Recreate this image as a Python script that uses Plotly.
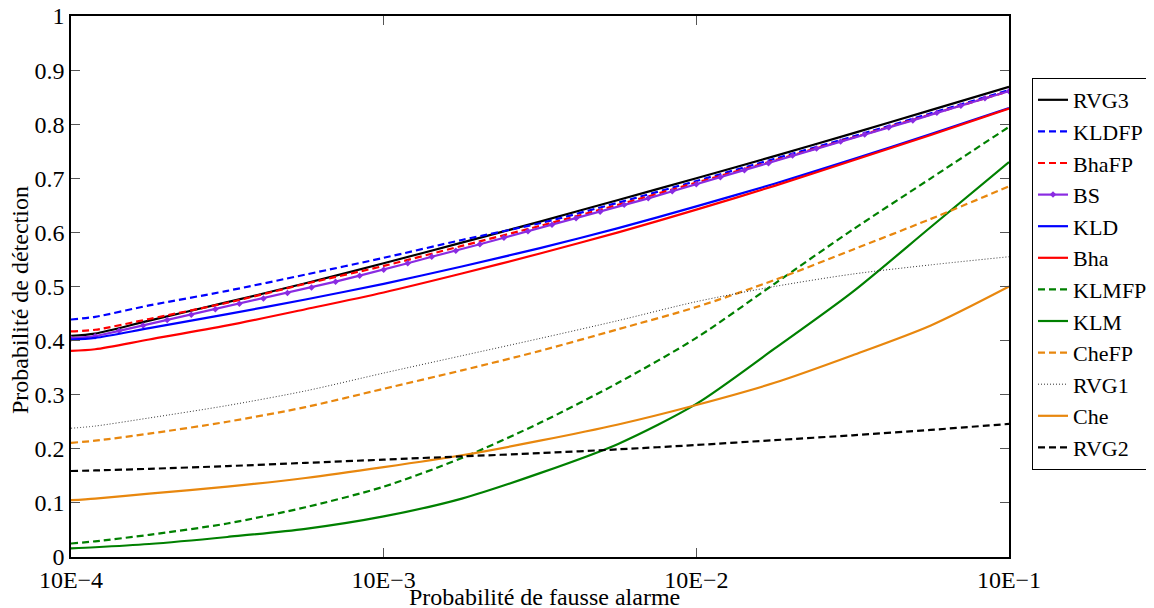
import numpy as np
import plotly.graph_objects as go

# x grid (probabilité de fausse alarme)
pfa = [1.0e-4, 1.194e-4, 1.778e-4, 3.162e-4, 5.623e-4, 1.0e-3, 1.778e-3,
       3.162e-3, 5.623e-3, 1.0e-2, 1.778e-2, 3.162e-2, 5.623e-2, 1.0e-1]
pfa_bs = list(np.logspace(-4, -1, 40))

rvg3  = [0.409, 0.413, 0.437, 0.471, 0.506, 0.543, 0.581, 0.620, 0.660, 0.700, 0.741, 0.783, 0.826, 0.869]
kldfp = [0.439, 0.444, 0.465, 0.492, 0.522, 0.553, 0.586, 0.617, 0.655, 0.695, 0.736, 0.777, 0.820, 0.863]
bhafp = [0.417, 0.420, 0.440, 0.470, 0.505, 0.538, 0.575, 0.612, 0.651, 0.692, 0.733, 0.775, 0.818, 0.861]
bs = [0.404, 0.408, 0.418, 0.428, 0.438, 0.448, 0.458, 0.468, 0.478, 0.488,
      0.498, 0.509, 0.520, 0.531, 0.543, 0.555, 0.566, 0.578, 0.590, 0.602,
      0.614, 0.626, 0.638, 0.651, 0.663, 0.676, 0.689, 0.702, 0.715, 0.728,
      0.742, 0.755, 0.768, 0.781, 0.794, 0.807, 0.821, 0.834, 0.848, 0.861]
kld   = [0.402, 0.405, 0.423, 0.449, 0.476, 0.505, 0.537, 0.571, 0.608, 0.648, 0.690, 0.735, 0.782, 0.830]
bha   = [0.381, 0.384, 0.402, 0.428, 0.458, 0.489, 0.524, 0.561, 0.600, 0.642, 0.686, 0.733, 0.780, 0.829]
klmfp = [0.025, 0.029, 0.041, 0.062, 0.092, 0.130, 0.183, 0.248, 0.322, 0.405, 0.505, 0.605, 0.700, 0.795]
klm   = [0.016, 0.018, 0.024, 0.037, 0.052, 0.075, 0.108, 0.155, 0.209, 0.283, 0.385, 0.490, 0.610, 0.730]
chefp = [0.211, 0.215, 0.228, 0.250, 0.277, 0.311, 0.345, 0.381, 0.421, 0.462, 0.512, 0.568, 0.625, 0.685]
rvg1  = [0.238, 0.242, 0.257, 0.280, 0.307, 0.340, 0.372, 0.404, 0.437, 0.472, 0.500, 0.523, 0.540, 0.555]
che   = [0.105, 0.108, 0.117, 0.130, 0.146, 0.166, 0.188, 0.215, 0.245, 0.281, 0.322, 0.373, 0.428, 0.500]
rvg2  = [0.159, 0.160, 0.163, 0.168, 0.174, 0.180, 0.186, 0.192, 0.199, 0.207, 0.216, 0.225, 0.235, 0.246]

xtick_vals = [1e-4, 1e-3, 1e-2, 1e-1]
xtick_text = ["10E\u22124", "10E\u22123", "10E\u22122", "10E\u22121"]

DASH = "7px,4px"
BLUE = "#0000FF"
RED = "#FF0000"
GREEN = "#008000"
ORANGE = "#E8870E"
PURPLE = "#8A2BE2"
LW = 2.2

series = [
    ("RVG3", pfa, rvg3, "black", "solid", LW),
    ("KLDFP", pfa, kldfp, BLUE, DASH, LW),
    ("BhaFP", pfa, bhafp, RED, DASH, LW),
    ("BS", pfa_bs, bs, PURPLE, "solid", LW),
    ("KLD", pfa, kld, BLUE, "solid", LW),
    ("Bha", pfa, bha, RED, "solid", LW),
    ("KLMFP", pfa, klmfp, GREEN, DASH, LW),
    ("KLM", pfa, klm, GREEN, "solid", LW),
    ("CheFP", pfa, chefp, ORANGE, DASH, LW),
    ("RVG1", pfa, rvg1, "#333333", "1px,2px", 1),
    ("Che", pfa, che, ORANGE, "solid", LW),
    ("RVG2", pfa, rvg2, "black", DASH, LW),
]

fig = go.Figure()
for name, xs, ys, col, dash, w in series:
    if name == "BS":
        fig.add_trace(go.Scatter(x=xs, y=ys, name=name, mode="lines+markers",
                                 line=dict(color=col, width=w, dash=dash),
                                 marker=dict(symbol="diamond", size=5, color=col)))
    else:
        fig.add_trace(go.Scatter(x=xs, y=ys, name=name, mode="lines",
                                 line=dict(color=col, width=w, dash=dash,
                                           shape="spline", smoothing=0.8)))

FONT = "'Times New Roman', Times, 'Liberation Serif', Tinos, 'Nimbus Roman', serif"

# page offset (body margin) compensation
OFF = 8
L, T, R, B = 71, 16, 1009, 557

fig.update_layout(
    width=1154, height=608,
    margin=dict(l=L - OFF, r=1154 - R + OFF, t=T - OFF, b=608 - B + OFF, autoexpand=False),
    paper_bgcolor="white", plot_bgcolor="white",
    font=dict(family=FONT, size=24, color="black"),
    showlegend=True,
    legend=dict(xref="container", yref="container",
                x=(1032 - OFF) / 1154, y=1 - (78 - OFF) / 608,
                xanchor="left", yanchor="top", maxheight=560,
                bordercolor="black", borderwidth=1, bgcolor="white",
                font=dict(family=FONT, size=22, color="black"),
                tracegroupgap=0, itemwidth=30),
    annotations=[
        dict(text="Probabilité de fausse alarme", xref="paper", yref="paper",
             x=(544 - L) / (R - L), y=(B - 597) / (B - T), xanchor="center", yanchor="middle",
             showarrow=False, font=dict(family=FONT, size=24)),
        dict(text="Probabilité de détection", xref="paper", yref="paper",
             x=(20 - L) / (R - L), y=(B - 300) / (B - T), xanchor="center", yanchor="middle",
             textangle=-90, showarrow=False, font=dict(family=FONT, size=24)),
    ],
)
fig.update_xaxes(
    type="log", range=[-4, -1], automargin=False,
    tickvals=xtick_vals, ticktext=xtick_text, ticklabeloverflow="allow",
    ticks="inside", ticklen=9, tickcolor="#555555", tickwidth=1,
    showline=True, linecolor="black", linewidth=1.5, mirror="allticks",
    showgrid=False, zeroline=False,
    tickfont=dict(family=FONT, size=24),
)
fig.update_yaxes(
    range=[0, 1], dtick=0.1, tick0=0, automargin=False, ticklabeloverflow="allow",
    ticks="inside", ticklen=9, tickcolor="#555555", tickwidth=1,
    showline=True, linecolor="black", linewidth=1.5, mirror="allticks",
    showgrid=False, zeroline=False,
    tickfont=dict(family=FONT, size=24),
)

fig.write_html("out.html")
